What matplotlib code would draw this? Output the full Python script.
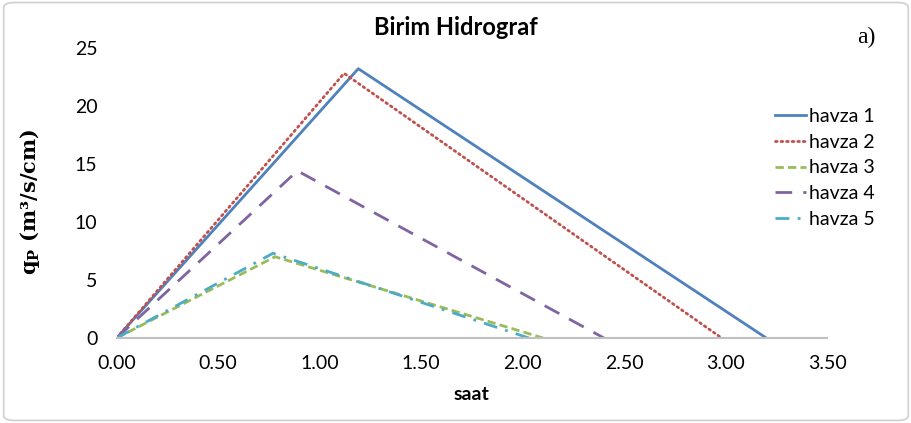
import matplotlib.pyplot as plt
from matplotlib.patches import FancyBboxPatch

# hydrograph triangles: time [h], discharge
t1 = [0.00, 1.19, 3.20]
q1 = [0.0, 23.2, 0.0]
t2 = [0.00, 1.12, 2.98]
q2 = [0.0, 22.8, 0.0]
t3 = [0.00, 0.78, 2.10]
q3 = [0.0, 7.0, 0.0]
t4 = [0.00, 0.89, 2.40]
q4 = [0.0, 14.4, 0.0]
t5 = [0.00, 0.77, 2.03]
q5 = [0.0, 7.3, 0.0]
labels = ['havza 1', 'havza 2', 'havza 3', 'havza 4', 'havza 5']
xticks = [0.0, 0.5, 1.0, 1.5, 2.0, 2.5, 3.0, 3.5]
yticks = [0, 5, 10, 15, 20, 25]

plt.rcParams['font.family'] = ['Lato', 'DejaVu Sans']

fig = plt.figure(figsize=(9.12, 4.23), dpi=100)
ax = fig.add_axes([0.128, 0.201, 0.779, 0.686])

ax.plot(t1, q1, color='#4F81BD', lw=2.0, ls='-', label=labels[0])
ax.plot(t2, q2, color='#C0504D', lw=2.0, ls=(0, (0.6, 1.4)), dash_capstyle='round', label=labels[1])
ax.plot(t3, q3, color='#9BBB59', lw=2.0, ls=(0, (3, 1.5)), label=labels[2])
ax.plot(t4, q4, color='#8064A2', lw=2.0, ls=(0, (6, 4)), label=labels[3])
ax.plot(t5, q5, color='#4BACC6', lw=2.0, ls=(0, (5, 3, 1, 3)), label=labels[4])

ax.set_xlim(0, 3.5)
ax.set_ylim(0, 25)
ax.set_xticks(xticks)
ax.set_xticklabels(['%.2f' % v for v in xticks])
ax.set_yticks(yticks)
ax.tick_params(length=0, labelsize=14, pad=12)
ax.tick_params(axis='y', pad=14)
for s in ['top', 'right', 'left']:
    ax.spines[s].set_visible(False)
ax.spines['bottom'].set_color('#BFBFBF')
ax.spines['bottom'].set_linewidth(1.5)

fig.text(0.5, 0.936, 'Birim Hidrograf', fontsize=17, fontweight='bold', ha='center', va='center')
ax.set_xlabel('saat', fontsize=14, fontweight='bold', labelpad=10)
ax.set_ylabel('q$_\\mathregular{P}$ (m³/s/cm)', fontsize=15, fontweight='bold',
              family='DejaVu Serif')
ax.yaxis.set_label_coords(-0.105, 0.47)

fig.text(0.96, 0.912, 'a)', fontsize=17, family='Liberation Serif', ha='right', va='center')

ax.legend(loc='upper left', bbox_to_anchor=(0.915, 0.82), frameon=False, fontsize=14,
          handlelength=1.6, handletextpad=0.15, labelspacing=0.45, borderaxespad=0)

border = FancyBboxPatch((0.004, 0.006), 0.992, 0.988, boxstyle='round,pad=0,rounding_size=0.012',
                        transform=fig.transFigure, fill=False, edgecolor='#D0D0D0', lw=1.2)
fig.patches.append(border)

fig.savefig('out.png', dpi=100)
